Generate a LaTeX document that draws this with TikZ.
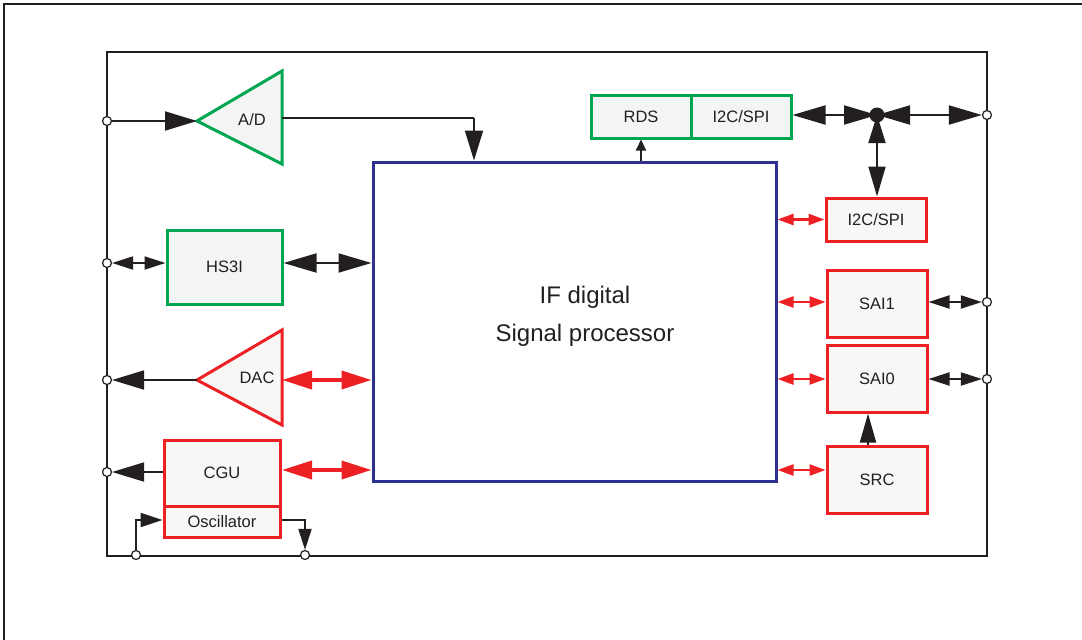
\documentclass[tikz,border=0pt]{standalone}
\usepackage{fontspec}
\setmainfont{Liberation Sans}
\usetikzlibrary{arrows.meta}
\definecolor{gr}{HTML}{00A651}
\definecolor{rd}{HTML}{ED2024}
\definecolor{nv}{HTML}{2E3192}
\definecolor{gfill}{HTML}{F2F5F3}
\definecolor{rfill}{HTML}{F7F7F5}
\definecolor{ink}{HTML}{231F20}
\begin{document}
\begin{tikzpicture}[x=1pt,y=-1pt,line width=1.5pt,
  lbl/.style={font=\fontsize{16.5}{18}\selectfont,text=ink},
  gbox/.style={draw=gr,fill=gfill,line width=3pt,lbl,inner sep=0pt},
  rbox/.style={draw=rd,fill=rfill,line width=3pt,lbl,inner sep=0pt},
  pin/.style={circle,draw=ink,fill=white,line width=1.2pt,inner sep=0pt,minimum size=9pt},
  wire/.style={draw=ink,line width=1.9pt},
  bigB/.style={wire,{Triangle[length=33pt,width=19pt]}-{Triangle[length=33pt,width=19pt]}},
  smB/.style={wire,{Triangle[length=21pt,width=13pt]}-{Triangle[length=21pt,width=13pt]}},
  bigR/.style={draw=rd,line width=3.8pt,{Triangle[length=30pt,width=18pt]}-{Triangle[length=30pt,width=18pt]}},
  smR/.style={draw=rd,line width=2.4pt,{Triangle[length=16pt,width=11pt]}-{Triangle[length=16pt,width=11pt]}},
  oneB/.style={wire,-{Triangle[length=32pt,width=19pt]}}
]
\useasboundingbox (0,0) rectangle (1082,640);
% outer frame
\draw[ink,line width=2pt] (4,640) -- (4,4) -- (1082,4);
% inner frame
\draw[ink,line width=1.9pt] (107,52) rectangle (987,556);

% DSP
\node[draw=nv,line width=3pt,minimum width=403pt,minimum height=319pt,inner sep=0pt] (dsp) at (574.5,321.5) {};
\node[font=\fontsize{24}{38}\selectfont,text=ink,align=center] (dspl) at (585,316) {IF digital\\Signal processor};

% boxes
\node[gbox,minimum width=100pt,minimum height=43pt] (rds) at (641,116.5) {RDS};
\node[gbox,minimum width=100pt,minimum height=43pt] (i2cg) at (741,116.5) {I2C/SPI};
\node[rbox,minimum width=100pt,minimum height=43pt] (i2cr) at (876,219.5) {I2C/SPI};
\node[rbox,minimum width=100pt,minimum height=67pt] (sai1) at (877,303.5) {SAI1};
\node[rbox,minimum width=100pt,minimum height=67pt] (sai0) at (877,378.5) {SAI0};
\node[rbox,minimum width=100pt,minimum height=67pt] (src) at (877,479.5) {SRC};
\node[gbox,minimum width=115pt,minimum height=74pt] (hs3i) at (224.5,267) {HS3I};
\node[rbox,minimum width=116pt,minimum height=66pt] (cgu) at (222,473) {CGU};
\node[rbox,minimum width=116pt,minimum height=31pt] (osc) at (222,521.5) {Oscillator};

% triangles
\draw[draw=gr,fill=gfill,line width=3pt,line join=miter] (197,121) -- (282,71) -- (282,164) -- cycle;
\coordinate (adin) at (197,121);
\coordinate (adout) at (282,118);
\node[lbl] (adl) at (252,120) {A/D};
\draw[draw=rd,fill=rfill,line width=3pt,line join=miter] (197,380) -- (282,330) -- (282,425) -- cycle;
\coordinate (dacin) at (197,380);
\coordinate (dacout) at (282,380);
\node[lbl] (dacl) at (257,378) {DAC};

% pins
\node[pin] (pad) at (107,121) {};
\node[pin] (phs) at (107,263) {};
\node[pin] (pdac) at (107,380) {};
\node[pin] (pcgu) at (107,472) {};
\node[pin] (pbus) at (987,115) {};
\node[pin] (psai1) at (987,302) {};
\node[pin] (psai0) at (987,379) {};
\node[pin] (pob1) at (136,555) {};
\node[pin] (pob2) at (305,555) {};
\node[circle,fill=ink,inner sep=0pt,minimum size=15pt] (jn) at (877,115) {};

% left side connectors
\draw[oneB] (pad) -- (adin);
\coordinate (adbend) at (474,118);
\draw[wire] (adout) -- (adbend);
\draw[wire,-{Triangle[length=30pt,width=18pt]}] (adbend) -- (adbend |- dsp.north);
\draw[smB] (phs) -- (hs3i.west |- phs);
\draw[bigB] (hs3i.east |- phs) -- (dsp.west |- phs);
\draw[oneB] (dacin) -- (pdac);
\draw[bigR] (dacout) -- (dsp.west |- dacout);
\draw[oneB] (cgu.west |- pcgu) -- (pcgu);
\draw[bigR] (282,470) -- (dsp.west |- 0,470);
\coordinate (oi) at (136,520);
\draw[wire,-{Triangle[length=22pt,width=14pt]}] (pob1) -- (oi) -- (osc.west |- oi);
\coordinate (oo) at (305,520);
\draw[wire,-{Triangle[length=21pt,width=13pt]}] (osc.east |- oo) -- (oo) -- (pob2);

% top right
\draw[wire,-{Triangle[length=11pt,width=10pt]}] (dsp.north -| rds) -- (rds.south);
\draw[bigB] (i2cg.east |- jn) -- (jn.center);
\draw[bigB] (jn.center) -- (pbus);
\draw[wire,{Triangle[length=28pt,width=17pt]}-{Triangle[length=30pt,width=17pt]}] (jn.center) -- (i2cr.north -| jn);

% right side
\draw[smR] (dsp.east |- i2cr) -- (i2cr.west);
\draw[smR] (dsp.east |- 0,302) -- (sai1.west |- 0,302);
\draw[smR] (dsp.east |- 0,379) -- (sai0.west |- 0,379);
\draw[smR] (dsp.east |- 0,470) -- (src.west |- 0,470);
\draw[smB] (sai1.east |- psai1) -- (psai1);
\draw[smB] (sai0.east |- psai0) -- (psai0);
\draw[wire,-{Triangle[length=29pt,width=16pt]}] (src.north -| 868,0) -- (sai0.south -| 868,0);
\end{tikzpicture}
\end{document}
